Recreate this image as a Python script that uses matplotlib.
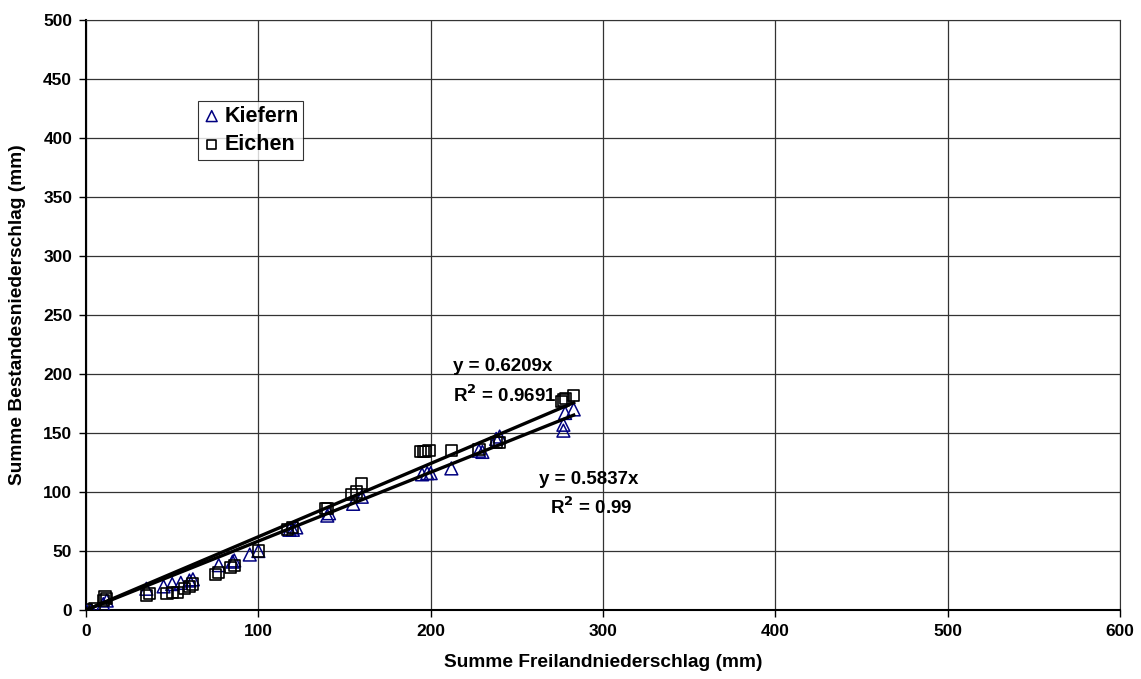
import matplotlib
matplotlib.use("Agg")
import matplotlib.pyplot as plt
import numpy as np

plt.rcParams['font.family'] = ['Liberation Sans', 'DejaVu Sans']
plt.rcParams['font.weight'] = 'bold'
plt.rcParams['mathtext.default'] = 'bf'

kiefern_x = [0, 3, 10, 12, 35, 45, 50, 55, 60, 62, 77, 85, 86, 95, 100, 118, 120, 122, 140, 141,
             155, 160, 195, 198, 200, 212, 228, 230, 238, 240, 277, 277, 278, 283]
kiefern_y = [0, 0, 5, 8, 18, 20, 22, 23, 25, 26, 38, 41, 42, 47, 50, 68, 68, 70, 80, 82,
             90, 96, 115, 116, 116, 120, 135, 134, 145, 147, 152, 157, 167, 170]
eichen_x = [0, 5, 10, 11, 12, 35, 37, 47, 50, 53, 57, 60, 62, 75, 77, 84, 86, 100, 117, 120, 139, 140,
            154, 157, 160, 194, 196, 197, 199, 212, 228, 238, 240, 276, 277, 278, 283]
eichen_y = [0, 1, 8, 11, 10, 12, 14, 14, 15, 15, 18, 20, 22, 30, 32, 36, 38, 50, 68, 70, 86, 86,
            98, 100, 107, 134, 134, 134, 135, 135, 136, 142, 142, 177, 178, 179, 182]
slope_kiefern = 0.5837
slope_eichen = 0.6209
r2_kiefern = "0.99"
r2_eichen = "0.9691"

fig = plt.figure(figsize=(11.41, 6.79), dpi=100)
ax = fig.add_axes([0.0754, 0.1016, 0.9062, 0.8689])

ax.scatter(kiefern_x, kiefern_y, marker='^', s=85, facecolors='none', edgecolors='#000080',
           linewidths=1.1, zorder=3, label='Kiefern')
ax.scatter(eichen_x, eichen_y, marker='s', s=65, facecolors='none', edgecolors='black',
           linewidths=1.2, zorder=3, label='Eichen')

xk = np.array([0, max(kiefern_x)])
ax.plot(xk, slope_kiefern * xk, color='black', lw=2.4, zorder=4)
xe = np.array([0, max(eichen_x)])
ax.plot(xe, slope_eichen * xe, color='black', lw=2.4, zorder=4)

fs_ann = 13.5
ax.text(213, 206, f"y = {slope_eichen}x", fontsize=fs_ann, fontweight='bold', ha='left', va='center')
ax.text(213, 182, f"R$^2$ = {r2_eichen}", fontsize=fs_ann, fontweight='bold', ha='left', va='center')
ax.text(263, 111, f"y = {slope_kiefern}x", fontsize=fs_ann, fontweight='bold', ha='left', va='center')
ax.text(269, 87, f"R$^2$ = {r2_kiefern}", fontsize=fs_ann, fontweight='bold', ha='left', va='center')

ax.set_xlim(0, 600)
ax.set_ylim(0, 500)
ax.set_xticks(np.arange(0, 601, 100))
ax.set_yticks(np.arange(0, 501, 50))
ax.grid(True, color='#333333', lw=0.9)
ax.set_axisbelow(True)
ax.tick_params(direction='out', length=5, labelsize=12.5, width=1, pad=5)
for lab in ax.get_xticklabels() + ax.get_yticklabels():
    lab.set_fontweight('bold')
for s in ax.spines.values():
    s.set_color('#333333')
ax.spines['left'].set_color('black')
ax.spines['bottom'].set_color('black')
ax.spines['left'].set_linewidth(1.5)
ax.spines['bottom'].set_linewidth(1.5)

ax.set_xlabel('Summe Freilandniederschlag (mm)', fontsize=13.8, fontweight='bold')
ax.set_ylabel('Summe Bestandesniederschlag (mm)', fontsize=13.8, fontweight='bold')
ax.xaxis.set_label_coords(0.5, -0.0898)
ax.yaxis.set_label_coords(-0.0662, 0.5)
ax.xaxis.label.set_va('center')
ax.yaxis.label.set_va('center')

leg = ax.legend(loc='upper left', bbox_to_anchor=(0.108, 0.862), frameon=True, fancybox=False,
                edgecolor='black', handletextpad=0.15, borderpad=0.2, borderaxespad=0,
                handlelength=0.9, labelspacing=0.35, markerscale=0.85,
                prop={'weight': 'bold', 'size': 15.5})
leg.get_frame().set_linewidth(0.8)

fig.savefig('out.png', dpi=100)
